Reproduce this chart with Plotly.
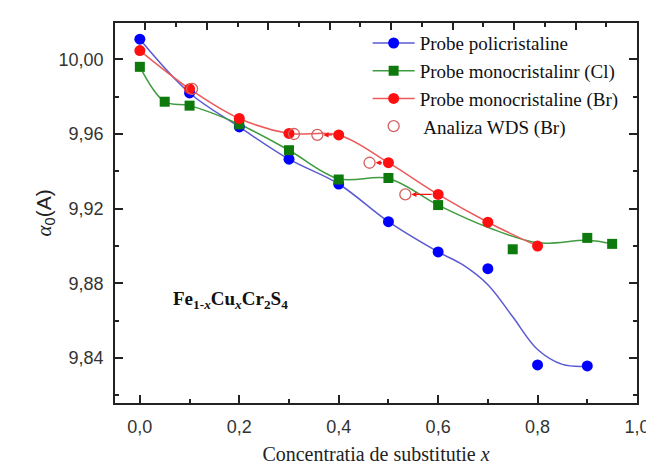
import plotly.graph_objects as go

# ---- data ----
blue_x = [0.0, 0.1, 0.2, 0.3, 0.4, 0.5, 0.6, 0.7, 0.8, 0.9]
blue_y = [10.0108, 9.9820, 9.9638, 9.9465, 9.9332, 9.9130, 9.8968, 9.8878, 9.8362, 9.8357]
blue_fit_x = [0.0, 0.1, 0.2, 0.3, 0.4, 0.5, 0.6, 0.65, 0.7, 0.75, 0.8, 0.85, 0.9]
blue_fit_y = [10.0108, 9.9820, 9.9638, 9.9465, 9.9332, 9.9130, 9.8968, 9.8898, 9.8792, 9.8620, 9.8445, 9.8365, 9.8355]

green_x = [0.0, 0.05, 0.1, 0.2, 0.3, 0.4, 0.5, 0.6, 0.75, 0.9, 0.95]
green_y = [9.9960, 9.9773, 9.9752, 9.9652, 9.9513, 9.9356, 9.9364, 9.9219, 9.8982, 9.9043, 9.9011]
green_fit_x = [0.0, 0.05, 0.1, 0.2, 0.3, 0.4, 0.5, 0.6, 0.7, 0.8, 0.9, 0.95]
green_fit_y = [9.9960, 9.9773, 9.9752, 9.9652, 9.9513, 9.9360, 9.9362, 9.9219, 9.9100, 9.9017, 9.9030, 9.9011]

red_x = [0.0, 0.1, 0.2, 0.3, 0.4, 0.5, 0.6, 0.7, 0.8]
red_y = [10.0047, 9.9842, 9.9683, 9.9603, 9.9595, 9.9446, 9.9276, 9.9127, 9.8999]

wds_x = [0.105, 0.31, 0.357, 0.462, 0.534]
wds_y = [9.9842, 9.9600, 9.9595, 9.9446, 9.9276]
# arrows: (index in wds, index in red)
arrow_pairs = [(2, 4), (3, 5), (4, 6)]

names = ["Probe policristaline", "Probe monocristalinr (Cl)",
         "Probe monocristaline (Br)", " Analiza WDS (Br)"]

x_ticks = [0.0, 0.2, 0.4, 0.6, 0.8, 1.0]
x_ticktext = ["0,0", "0,2", "0,4", "0,6", "0,8", "1,0"]
y_ticks = [9.84, 9.88, 9.92, 9.96, 10.00]
y_ticktext = ["9,84", "9,88", "9,92", "9,96", "10,00"]

BLUE_M, BLUE_L = "#0000ff", "#5a5ad2"
GREEN_M, GREEN_L = "#0e7a0e", "#3f9b3f"
RED_M, RED_L = "#ff1010", "#ee5a5a"
WDS_C = "#d46060"

fig = go.Figure()

# fitted curves
fig.add_trace(go.Scatter(x=blue_fit_x, y=blue_fit_y, mode="lines", line=dict(color=BLUE_L, width=1.5, shape="spline"), showlegend=False, hoverinfo="skip"))
fig.add_trace(go.Scatter(x=green_fit_x, y=green_fit_y, mode="lines", line=dict(color=GREEN_L, width=1.5, shape="spline"), showlegend=False, hoverinfo="skip"))
fig.add_trace(go.Scatter(x=red_x, y=red_y, mode="lines", line=dict(color=RED_L, width=1.5, shape="spline"), showlegend=False, hoverinfo="skip"))

# markers
fig.add_trace(go.Scatter(x=blue_x, y=blue_y, mode="markers", marker=dict(symbol="circle", size=11, color=BLUE_M), showlegend=False))
fig.add_trace(go.Scatter(x=green_x, y=green_y, mode="markers", marker=dict(symbol="square", size=10, color=GREEN_M), showlegend=False))
fig.add_trace(go.Scatter(x=red_x, y=red_y, mode="markers", marker=dict(symbol="circle", size=11, color=RED_M), showlegend=False))
fig.add_trace(go.Scatter(x=wds_x, y=wds_y, mode="markers", marker=dict(symbol="circle-open", size=11, color=WDS_C, line=dict(width=1.3)), showlegend=False))

# legend entries
fig.add_trace(go.Scatter(x=[None], y=[None], mode="lines+markers", name=names[0], line=dict(color=BLUE_L, width=1.5), marker=dict(symbol="circle", size=11, color=BLUE_M)))
fig.add_trace(go.Scatter(x=[None], y=[None], mode="lines+markers", name=names[1], line=dict(color=GREEN_L, width=1.5), marker=dict(symbol="square", size=10, color=GREEN_M)))
fig.add_trace(go.Scatter(x=[None], y=[None], mode="lines+markers", name=names[2], line=dict(color=RED_L, width=1.5), marker=dict(symbol="circle", size=11, color=RED_M)))
fig.add_trace(go.Scatter(x=[None], y=[None], mode="markers", name=names[3], marker=dict(symbol="circle-open", size=11, color=WDS_C, line=dict(width=1.3))))

annotations = []
for wi, ri in arrow_pairs:
    annotations.append(dict(x=wds_x[wi], y=wds_y[wi], ax=red_x[ri], ay=red_y[ri],
                            xref="x", yref="y", axref="x", ayref="y", text="",
                            showarrow=True, arrowhead=2, arrowsize=0.8, arrowwidth=1.3,
                            arrowcolor=RED_M, standoff=6, startstandoff=5))
annotations.append(dict(x=0.062, y=9.871, xref="x", yref="y", xanchor="left", yanchor="middle",
                        showarrow=False,
                        text="<b>Fe<sub>1-<i>x</i></sub>Cu<sub><i>x</i></sub>Cr<sub>2</sub>S<sub>4</sub></b>",
                        font=dict(family="Liberation Serif", size=19, color="#111")))
# y-axis title
annotations.append(dict(x=-0.135, y=0.5, xref="paper", yref="paper", xanchor="center", yanchor="middle",
                        showarrow=False, textangle=-90,
                        text="<span style=\"font-family:'Liberation Serif'\"><i>α</i></span><sub>0</sub>(A)",
                        font=dict(family="Liberation Sans", size=21, color="#222")))

axis_common = dict(showline=True, linecolor="#222", linewidth=1.8, ticks="inside",
                   tickcolor="#222", tickwidth=1.5, ticklen=8, showgrid=False, zeroline=False,
                   tickfont=dict(family="Liberation Sans", size=18, color="#333"))

fig.update_layout(
    width=654, height=466,
    margin=dict(l=107, r=14, t=15, b=59),
    paper_bgcolor="white", plot_bgcolor="white",
    xaxis=dict(range=[-0.05, 1.0], tickvals=x_ticks, ticktext=x_ticktext, mirror=True,
               minor=dict(dtick=0.1, tick0=0, ticks="inside", ticklen=4, tickcolor="#222", tickwidth=1.5),
               ticklabelstandoff=6,
               title=dict(text="Concentratia de substitutie <i>x</i>", standoff=11,
                          font=dict(family="Liberation Serif", size=20, color="#222")),
               **axis_common),
    xaxis2=dict(overlaying="x", side="top", range=[-0.987, 16.0], dtick=2, tick0=0,
                showticklabels=False, showline=False, ticks="inside", ticklen=7,
                tickcolor="#222", tickwidth=1.5, showgrid=False, zeroline=False,
                minor=dict(dtick=1, tick0=0, ticks="inside", ticklen=4, tickcolor="#222", tickwidth=1.5)),
    yaxis=dict(range=[9.8158, 10.0195], tickvals=y_ticks, ticktext=y_ticktext, mirror="ticks",
               minor=dict(dtick=0.02, tick0=9.82, ticks="inside", ticklen=4, tickcolor="#222", tickwidth=1.5),
               ticklabelstandoff=6,
               **axis_common),
    legend=dict(x=0.484, y=0.997, xanchor="left", yanchor="top", bgcolor="rgba(0,0,0,0)",
                font=dict(family="Liberation Serif", size=19, color="#111"),
                tracegroupgap=0, itemwidth=42),
    annotations=annotations,
    showlegend=True,
)
# invisible trace to anchor the top axis
fig.add_trace(go.Scatter(x=[None], y=[None], xaxis="x2", showlegend=False, hoverinfo="skip"))

fig.write_html("out.html")
